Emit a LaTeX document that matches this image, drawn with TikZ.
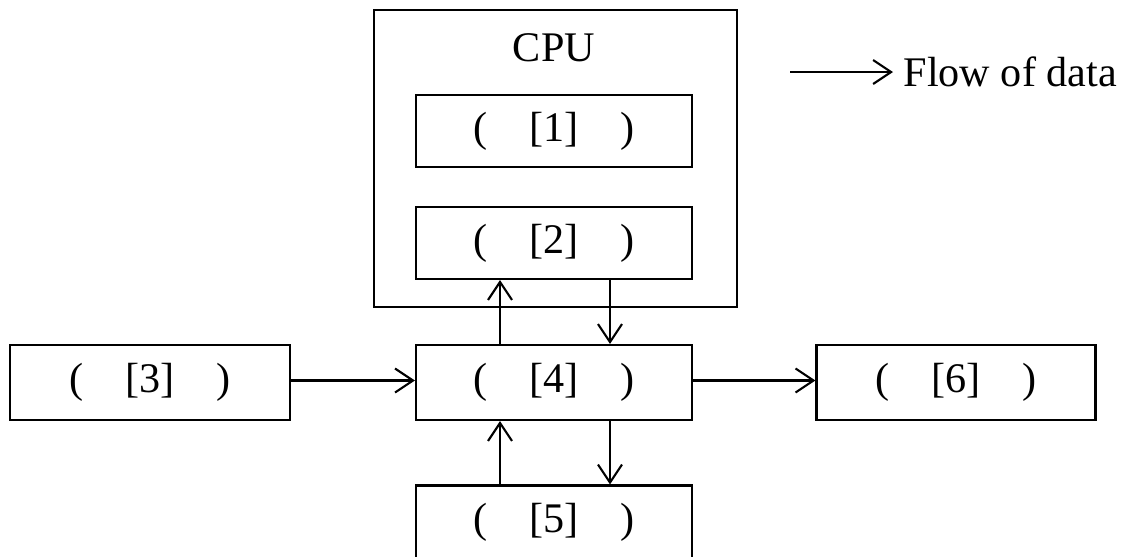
\documentclass[tikz,border=0pt]{standalone}
\usepackage{fontspec}
\setmainfont{Liberation Serif}
\usetikzlibrary{positioning,arrows.meta}

\newcommand{\slot}[1]{(\hspace{1em}[#1]\hspace{1em})}

\begin{document}
\begin{tikzpicture}[every node/.style={font=\fontsize{12}{14}\selectfont, align=center},
    box/.style={draw, semithick, minimum width=2.76cm, minimum height=0.75cm, inner sep=0pt},
    >={Straight Barb[length=1.8mm,width=2.4mm]}]
    \useasboundingbox (0,0) rectangle (11.29,-5.56);
    % CPU frame
    \node[draw, semithick, minimum width=3.63cm, minimum height=2.97cm] (cpubox) at (5.555,-1.585) {};

    \node[box] (m4) at (5.54,-3.825) {\slot{4}};
    \node[box, minimum width=2.80cm, left of=m4, node distance=4.04cm] (m3) {\slot{3}};
    \node[box, minimum width=2.79cm, right of=m4, node distance=4.02cm] (m6) {\slot{6}};
    \node[box, minimum height=0.72cm, above of=m4, node distance=1.395cm] (m2) {\slot{2}};
    \node[box, minimum height=0.72cm, above of=m2, node distance=1.12cm] (m1) {\slot{1}};
    \node[box, minimum height=0.74cm, below of=m4, node distance=1.40cm] (m5) {\slot{5}};
    \node[above of=m1, node distance=0.83cm] (cpu) {CPU};

    \draw[semithick, ->] ([yshift=0.02cm]m3.east) -- ([yshift=0.02cm]m4.west);
    \draw[semithick, ->] ([yshift=0.02cm]m4.east) -- ([yshift=0.02cm]m6.west);
    \draw[semithick, ->] ([xshift=-0.54cm]m4.north) -- ([xshift=-0.54cm]m2.south);
    \draw[semithick, ->] ([xshift=0.56cm]m2.south) -- ([xshift=0.56cm]m4.north);
    \draw[semithick, ->] ([xshift=-0.54cm]m5.north) -- ([xshift=-0.54cm]m4.south);
    \draw[semithick, ->] ([xshift=0.56cm]m4.south) -- ([xshift=0.56cm]m5.north);

    % legend
    \node[anchor=west, inner sep=1mm] (legend) at (8.93,-0.72) {Flow of data};
    \coordinate (legstart) at ([xshift=-1.03cm]legend.west);
    \draw[semithick, ->] (legstart) -- (legend.west);
\end{tikzpicture}
\end{document}
